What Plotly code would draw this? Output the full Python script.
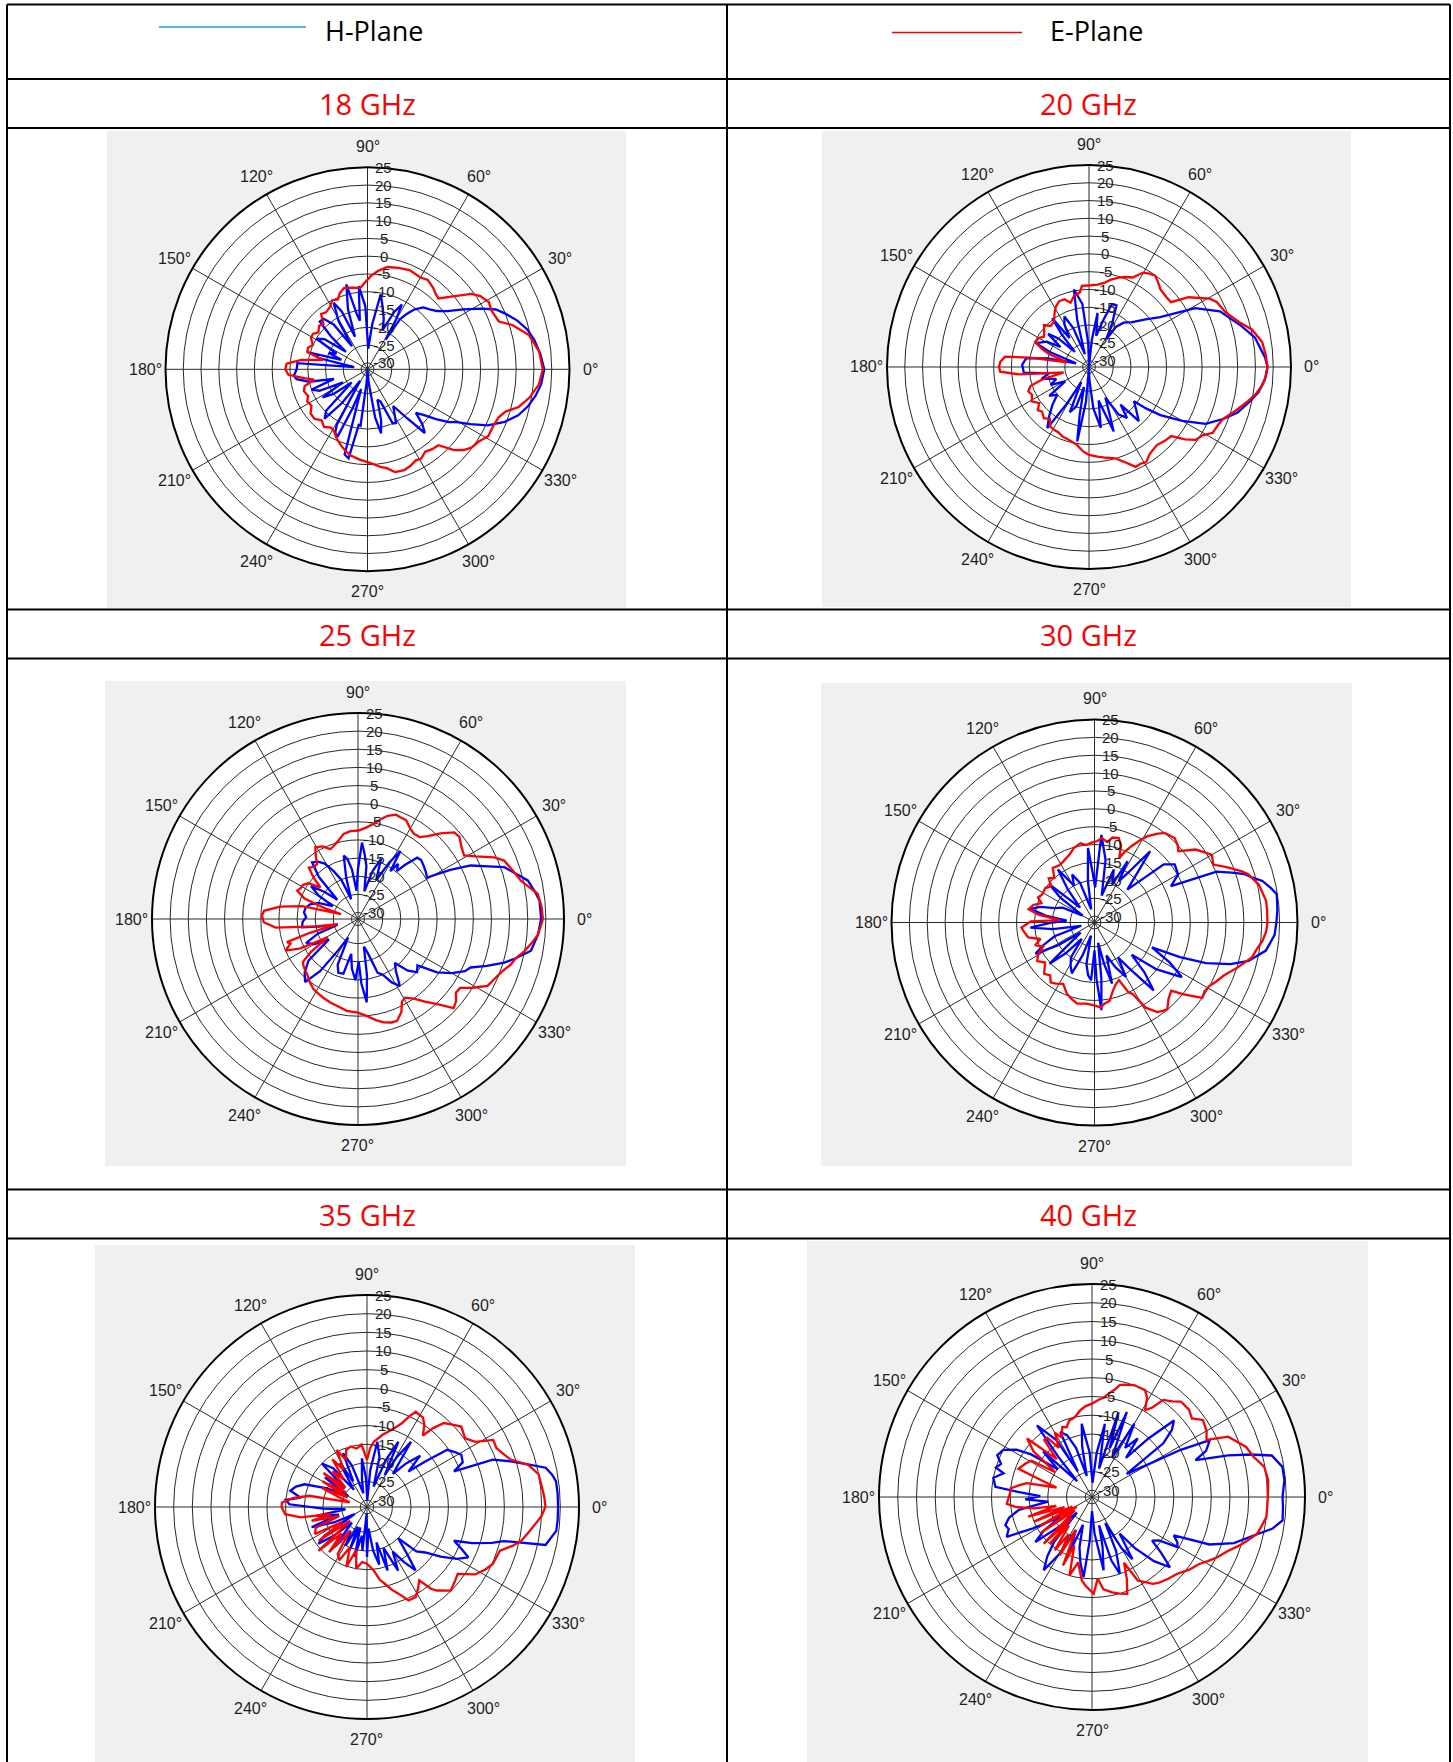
import math
import plotly.graph_objects as go

W, H = 1453, 1762

FREQ_LABELS = ["18 GHz", "20 GHz", "25 GHz", "30 GHz", "35 GHz", "40 GHz"]
THETA_TICKS = list(range(0, 360, 30))
THETA_TEXT = [f"{t}°" for t in THETA_TICKS]
R_TICKS = [-30, -25, -20, -15, -10, -5, 0, 5, 10, 15, 20, 25]
R_MIN, R_MAX = -31.8, 25
LEGEND_NAMES = ["H-Plane", "E-Plane"]

# ---- measured patterns: [angle (deg), gain (dB)] ----
H18 = [[0,17.9],[5,17],[10,15.8],[14,14.5],[18,12.5],[22,10],[25,8],[28,4.5],[32,0],[36,-4],[40,-6.3],[44,-7.5],[48,-8.4],[52,-10.5],[55,-13],[57,-15],[58.5,-22],[60,-16],[62,-11.2],[65,-14],[69,-20],[72,-17],[76,-14],[80,-10.4],[84,-19],[88,-26],[92,-14],[96,-8.3],[99,-18],[101,-16],[104,-7.2],[108,-14],[111,-22],[114,-14],[117,-10.8],[121,-16],[124,-24],[127,-16],[131,-13],[135,-12.8],[138,-18],[141,-24],[145,-17],[149,-15],[153,-22],[157,-20],[160,-24],[164,-14.5],[167,-18],[171,-28],[175,-12],[180,-11.9],[185,-11],[188,-11.7],[192,-15],[196,-22],[200,-15],[204,-17],[208,-24],[212,-16.9],[216,-20],[220,-26],[225,-15.4],[229,-13.4],[233,-20],[237,-28],[241,-14],[243,-11.8],[246,-11],[249,-20],[252,-26],[255,-7],[258,-6.2],[261,-16],[263,-15.8],[266,-28],[270,-31.5],[275,-28],[279,-18],[282,-13.4],[285,-17],[288,-22.8],[292,-22],[295,-15],[298,-14.7],[301,-17],[305,-19.2],[309,-14],[312,-7.7],[315,-10],[318,-13.5],[321,-11.3],[324,-8],[327,-4.5],[329,-3.1],[332,1],[335,5.5],[339,9.5],[343,12.5],[347,14.5],[351,16],[355,17.2],[360,17.9]]
E18 = [[0,17.5],[6,16.7],[12,14.6],[17,10.8],[20,7.5],[25,6.8],[29,7.2],[33,6],[36,4.3],[40,0.2],[45,-3.6],[48,-3.2],[51,-2.4],[56,-1.5],[60,-2],[67,-1.5],[73,-2],[79,-2.5],[84,-4],[88,-5.6],[92,-7.5],[95,-8.8],[100,-8.5],[106,-8],[110,-9],[113,-10.5],[117,-10],[121,-11.3],[126,-12],[130,-11.5],[134,-14],[138,-13.5],[143,-14.5],[147,-13.5],[151,-13.6],[156,-15],[160,-14],[164,-14.2],[168,-19],[172,-13],[176,-9],[180,-8.7],[184,-9.5],[188,-13.8],[191,-16.5],[195,-13.5],[199,-12.9],[204,-13.5],[208,-12.6],[213,-13],[218,-11.5],[223,-11.4],[228,-12.5],[233,-11.5],[238,-12.5],[242,-11.9],[246,-10.5],[251,-9.1],[255,-8],[259,-7.1],[265,-6.3],[270,-5.7],[274,-5],[278,-4],[281,-3.5],[285,-1.9],[290,-1.6],[294,-2.1],[298,-2.8],[301,-2.5],[305,-3.5],[309,-2.9],[313,-2.6],[317,1.5],[320,3.5],[323,4.8],[327,5.5],[331,7],[336,7],[340,7.5],[343,8.8],[346,12],[350,14.4],[355,16.6],[360,17.5]]

H20 = [[0,18.4],[3,17.8],[10,15.6],[15,12.6],[23,8.2],[29,2.3],[35,-7.4],[40,-11],[46,-14.3],[52,-16],[56,-18.1],[58,-22.6],[62,-18],[66,-12.8],[70,-13],[73,-18],[77,-22.8],[81,-16.4],[84,-24],[88,-31.5],[92,-25],[96,-14],[101,-9.6],[104,-18],[108,-28],[112,-20],[116,-16],[120,-18],[124,-22],[127,-14.6],[130,-20],[133,-26],[137,-20],[141,-17],[145,-22],[149,-18],[155.8,-15.4],[159,-20],[164,-28],[168,-20],[172,-14],[178,-13],[185,-13.4],[189,-20.4],[194,-18],[200,-22],[205,-19.9],[211,-24],[216,-18],[221,-20],[226,-17],[231,-14],[235.7,-11],[239,-20],[243,-27],[247,-18],[252,-20],[256,-26],[259,-18],[261,-10.6],[265,-22],[268,-31.5],[272,-28],[276,-20],[281,-14.4],[286,-22],[291,-12.4],[294,-18],[298,-22],[302,-16],[306.7,-13.9],[310,-18],[312.6,-11.1],[318,-14],[322.7,-15.9],[324,-12],[326,-7.6],[330,-1.5],[334,4.7],[339,8.8],[343,11.9],[348,14.5],[351.6,16.4],[356,17.8],[360,18.4]]
E20 = [[0,18.4],[4,18],[8.2,17.4],[13,15.2],[16.6,12.3],[22,9.5],[27,8.5],[29.5,7.2],[35,2.4],[38.3,-2.4],[42,-2.5],[47.5,-2.1],[51,-1],[54,-0.1],[57,-0.5],[60.2,-1.2],[64,-3.8],[68,-4.5],[71.7,-5.3],[76,-6.5],[79.5,-7.7],[84,-8.5],[88.7,-8.8],[95,-8.9],[97,-10.7],[102,-11.4],[106,-13],[110,-11.5],[114.5,-11.5],[119,-12.5],[122,-13.6],[127.5,-15.6],[133,-16],[137,-14.5],[142,-15.8],[146,-16.5],[150,-15.5],[155,-15.1],[159,-17.7],[162,-20],[168,-25.5],[171,-15],[173,-8],[176.8,-6.8],[180,-6.5],[183,-6.8],[186,-12],[192,-24.5],[195,-18],[198,-14.5],[202,-13.4],[206,-14],[211,-13],[216,-14.5],[220,-13],[223.5,-13.6],[228.6,-12.6],[233,-13.5],[237,-11.8],[241,-11.6],[245,-11.5],[249,-10.9],[255,-10.5],[261,-9.7],[266,-8],[270,-7.1],[275.5,-6.5],[281,-5.8],[286,-5.1],[290,-3.5],[295,-0.8],[298,-1],[301,-0.6],[305,-2],[311,-2.7],[316,-2],[320,-1.6],[323,2],[325.6,4.5],[329,5.5],[332,7.6],[336,8],[339,8.7],[343,11],[348,14],[351,15.8],[354,17.2],[357,18],[360,18.4]]

H25 = [[0,18.7],[5.8,18.5],[9,17.5],[12.8,16.2],[16,13.5],[19.5,11],[22,7],[25.4,2.6],[28,-3],[31,-9.6],[35,-9],[39,-8.5],[43,-8],[46,-8.3],[49,-12],[51,-14.8],[54,-13],[56,-15.9],[58,-9.7],[61,-14],[65,-20],[69,-14],[73,-18],[77,-24],[81,-17],[84,-14],[87,-10.7],[90,-18],[93,-24],[97,-18],[100,-15],[102.7,-13.9],[106,-20],[109,-26],[113,-20],[117,-17],[121,-14],[125,-12.5],[129,-11.7],[133,-16],[137,-24],[141,-20],[145,-16],[149,-19],[153,-24],[158,-20],[163,-18],[168,-17],[173,-16.8],[178,-17.5],[183,-16.5],[188.5,-16.2],[192,-22],[196,-26],[200,-20],[205,-16],[210,-18],[215,-22],[220,-14],[225,-11],[230,-9.1],[234,-14],[238,-22],[242,-26],[246,-18],[250,-16],[255,-16.2],[259,-22],[263,-18],[267.5,-14.9],[271,-20],[273,-14],[276,-8.7],[279,-16],[282,-24],[286,-22],[290,-16],[294,-15],[298,-12],[302,-10],[306,-14],[310,-16],[314,-12],[318,-9.9],[322,-11],[326,-5.5],[330,-2],[334,1],[336.7,2],[340,6],[343.4,10.3],[346,13],[349.6,16.7],[355,18],[360,18.7]]
E25 = [[0,19.2],[4,18.9],[8,18.2],[13.3,14.3],[17.4,12.9],[21.8,11.6],[24.4,9.4],[28,5],[31,2.3],[35,3],[39,4.2],[42,3.9],[46,1],[50,-2],[53,-3.5],[56.8,-3.7],[60,-3],[64,-1.5],[67.4,-1.4],[70,-1.2],[74,-2.2],[77,-3.5],[80.6,-5.2],[85,-6.5],[89.6,-7.4],[95,-7.5],[99.6,-8],[104,-9.5],[108,-10.5],[111.6,-11.1],[116,-9.5],[120.8,-8.8],[124,-11],[126.7,-12.9],[130,-13],[133.7,-12.2],[137,-15],[140,-18.3],[144,-15],[148,-14],[152,-13.8],[155,-13.3],[159,-16],[162,-22],[164,-26.9],[167,-16],[171,-10],[175,-5.8],[178,-5.3],[182,-5.8],[186,-9],[190,-20],[194,-26],[196,-18],[198,-11.2],[200,-12],[203.5,-10],[207,-14],[211,-22],[215,-16],[218,-12.5],[220.7,-12],[224,-11.5],[228,-11],[232,-10],[237.6,-8.9],[242,-8.5],[247,-8],[252,-7.5],[258,-7],[263,-6.3],[270,-6],[275,-5],[280,-3.5],[284,-2.4],[288,-1.8],[291,-1.7],[295,-3.5],[298,-6],[301,-6.5],[305,-5],[309,-2.5],[313,0.3],[317,4.2],[320,3.5],[323,2],[326,2.2],[329,5],[332.7,8.4],[337,9.5],[340,10.5],[343.5,12.2],[346,13],[349,14.9],[352,16.5],[355,18],[360,19.2]]

H30 = [[0,19.1],[4,19.5],[8.8,19.8],[11,18.5],[13.9,16.6],[16,14],[17.8,12.4],[20,9],[22.6,5.2],[25.4,-8.1],[29.9,-4.8],[35.9,-4.1],[40,-6.5],[45,-18.8],[52,-6.5],[56,-15],[59.5,-18.4],[61.6,-12.3],[65,-20],[70,-16],[75,-24],[80,-14],[85.5,-7.2],[89,-22],[92,-18],[95,-10.9],[99,-20],[104,-28],[110,-20],[115,-17],[119,-20],[124.6,-13.8],[129,-20],[134,-26],[139.8,-15.3],[144,-20],[150,-28],[155,-22],[160,-20],[164,-16],[168,-13.4],[172,-18],[176,-24],[180,-20],[184.5,-13.8],[189,-20],[194,-28],[199,-20],[204,-16],[208,-13.1],[212,-20],[216,-27],[222.5,-14.7],[227,-20],[232,-26],[236,-20],[241,-18],[246,-16.2],[250,-22],[255,-28],[259,-20],[263,-17],[266.6,-15.6],[270,-24],[272,-16],[274.5,-7.2],[277,-16],[280,-26],[283,-20],[286,-14],[290,-22],[295,-18],[300,-14.2],[304,-20],[307,-16],[311,-6.6],[315,-12],[319,-18],[323,-10],[328,-3],[332,-8],[336.6,-14.3],[338,-6],[340,1.4],[343,8],[346,12.6],[350.7,16.8],[356,18.7],[360,19.1]]
E30 = [[0,16.6],[4,16.6],[7.2,16.6],[13,15.4],[17.4,13.3],[19.3,11.7],[23,8],[26,5.2],[30,6.1],[33,4.5],[35.8,3.1],[40.4,-1],[43,0],[46.5,0.8],[52,0],[55,-1.5],[58.7,-3.6],[61,-5.5],[64.3,-8.2],[67,-10.5],[69,-12.5],[71,-9],[74,-7.2],[78,-7.5],[81,-9],[85,-8.1],[88,-9],[92.5,-9.5],[96,-10],[100,-9.3],[105.6,-10.2],[110,-11.5],[117,-12.6],[122,-13],[127.5,-12.6],[132,-15],[136,-14],[140,-16],[145,-15],[151.8,-15.2],[156,-14.5],[160,-16],[164,-14],[168.6,-13],[172,-16],[176,-22],[179,-14],[184,-11.3],[188,-12],[192.7,-12.8],[197,-16],[201,-14],[205,-16],[210,-13.5],[214,-12.5],[219,-14],[225.5,-11.7],[230,-12.5],[234,-11],[238,-11.6],[243,-12.5],[248.6,-10.5],[253,-9.5],[258,-8.6],[264,-9],[270,-8.6],[274,-8],[277,-8.9],[281,-9.5],[285,-12],[289,-13.5],[293,-14.3],[296,-10],[298,-9.2],[301,-4],[305,-1.2],[308,-0.5],[310,-0.1],[314,-2],[318.4,-3.1],[321,0],[325,5],[328,4.5],[331,4.9],[334,6],[337.7,7.3],[342.6,10.2],[347.5,13.3],[350,14],[353.8,15.5],[357,16.3],[360,16.6]]

H35 = [[0,19.4],[4,19.4],[7.8,19.3],[10,18.5],[12.4,17.2],[15,12.5],[17.7,8.5],[20.6,4.2],[22.3,-6.6],[25,-3.5],[29,-2.9],[32,-4],[35.5,-5.4],[38,-12],[40.5,-17.2],[44,-12],[48,-16],[52,-20.5],[56,-10.7],[59,-16],[61,-22],[64.3,-12.4],[68,-18],[72,-26],[76,-18],[81,-14.1],[85,-22],[88,-30],[92,-24],[96,-18.7],[100,-24],[105,-28],[110,-20],[114,-16],[118,-24],[122,-18],[127,-26],[131,-18],[136,-15],[140,-24],[145,-18],[150,-26],[155,-20],[160,-14],[164,-12],[168,-10.8],[172,-13.9],[175,-10],[178,-11],[182,-20],[186,-26],[190,-18],[195,-24],[200,-16],[205,-22],[210,-28],[214,-18],[217,-15.5],[221,-20],[226,-26],[231,-18],[236,-24],[241,-20],[245,-26],[248,-19.3],[252,-26],[256,-18],[260,-24],[264,-20],[267,-30],[270,-18.4],[274,-26],[278,-20],[282,-16],[285,-22],[288,-13.9],[292,-20],[296,-12.8],[300,-18],[304,-14],[307.5,-10.4],[311,-16],[315,-20],[318,-14],[322,-12],[326,-8],[330,-4],[333.6,-1.5],[336,-4],[338.8,-6.8],[341,-2],[344,3],[346,5.9],[348,17.1],[352.8,19.3],[356,19.4],[360,19.4]]
E35 = [[0,16],[3,15.8],[6.3,15.4],[10.8,15],[14.7,12.8],[18.3,8.7],[21,7.5],[24.5,6.3],[28,6.5],[31,2.1],[35,0.3],[40.5,1.4],[44,0],[47.5,-1.3],[50,-4.2],[52,-7.5],[55,-5],[58,-3.5],[60.4,-3.4],[62.9,-3.1],[65,-5],[67.4,-7.5],[72,-10],[77.8,-12],[84,-14.2],[87,-16],[90,-19.2],[95,-15],[100,-15.9],[105,-15],[110,-15.5],[114,-18],[118,-14.5],[122,-20],[126,-16],[130,-22],[134,-18.5],[138,-24],[142,-17],[146,-25],[150,-18],[154,-26],[157,-18.7],[161,-24],[165,-27],[169,-16],[173,-12],[177,-9],[180,-8.9],[185,-9.8],[189,-13.9],[191,-22],[194,-16.5],[198,-24],[202,-17],[207.5,-16.1],[211,-24],[215,-16],[219,-26],[222,-14.3],[226,-22],[230,-16],[234,-24],[238,-17],[242.5,-15.7],[247,-20],[251,-14.8],[256,-20],[260,-15],[265,-17],[270,-16.6],[276,-14.7],[280,-12],[283,-10.7],[287,-8.5],[290,-7.1],[294,-4.4],[298.5,-4.4],[302,-6],[305.5,-7.7],[308,-4],[310,-2.6],[315,-0.1],[320,-1],[323.6,-1.6],[328,2.3],[332,4],[335.6,5.2],[341.8,5.7],[345,8.5],[347.6,10.5],[351,12],[354,13.4],[357,15],[360,16]]

H40 = [[0,19],[5,19.7],[9,19.6],[13,17.4],[15,12],[17,6.2],[19.6,-2.5],[22,1],[25.8,3.1],[28,-5],[30,-14],[33.7,-20.7],[37,-8],[40,-4],[43,-1.9],[46,-10],[49,-18],[52,-12],[56,-16],[60,-9.2],[63,-20],[67.7,-7.3],[70,-18],[72.6,-8.1],[76,-24],[80,-12],[84,-20],[88,-28],[93,-20],[98,-12.1],[101,-18],[104,-26],[108,-18],[112,-14],[116,-12.5],[119,-24],[122,-14],[127.5,-7.7],[130,-18],[133,-26],[137,-14],[141,-20],[145,-12],[148,-8],[152,-5],[156.3,-4.2],[160,-6],[163,-5],[165,-7.4],[169,-5],[174,-5.9],[176,-12],[179,-18],[182,-14],[186,-20],[190,-12],[194,-9],[198,-7.5],[201,-8],[205,-6.7],[208,-14],[212,-22],[215,-16],[218.5,-12.5],[222,-20],[226,-26],[230,-16],[233,-12],[236.6,-8.4],[240,-14],[244,-22],[248,-16],[252,-24],[256,-18],[260,-14],[264,-10.3],[267,-20],[270,-28],[274,-22],[279,-12],[282,-18.3],[284,-24],[287,-14],[290,-10],[294,-16],[297,-24],[300,-16],[303,-12],[307,-19.6],[310,-14],[314,-8],[318,-3.8],[321,-8],[324,-12],[327,-10.5],[329.6,-5.4],[332,-6],[334.8,-7.7],[338,2],[342,8],[346.6,12.5],[350,17],[353,19.4],[357,19.2],[360,19]]
E40 = [[0,15.1],[5.5,15.4],[10,14.8],[14,12.6],[18,11.4],[21,9.5],[23.9,7.9],[26.5,2.3],[30,3.5],[34.8,4.2],[38.2,2.1],[42,3],[47,3],[50,1.5],[53.8,0.3],[56,-3],[58.6,-4.7],[61,-1.5],[63.6,0],[66,0],[69.4,0.1],[73,-0.5],[76,-1],[78,-2.5],[80.7,-3.8],[83,-5],[86.4,-5.9],[90,-6.9],[94,-7.5],[97.8,-8.5],[102,-10],[106.5,-10.5],[110,-12],[113,-11.5],[117,-14],[120,-12],[124,-16],[127,-12],[130,-12],[133,-18],[138,-8.5],[142,-12],[146,-20],[149,-13],[153,-12],[159,-10.8],[162,-18],[165,-22],[168,-14],[171,-12],[174,-10],[177.6,-9.9],[184.5,-9],[187.4,-11.2],[191,-16],[194,-22],[197,-14],[200,-24],[203,-15],[206,-26],[209,-16],[212,-27],[215,-15],[218,-26],[224,-13.9],[226,-24],[228,-15],[231,-22],[235,-14.5],[238,-20],[241,-14],[244,-22],[247,-12],[250,-18],[254,-10],[258,-14],[263,-9.4],[266,-8],[271,-6],[274,-10],[277,-7],[282,-5.8],[286,-5],[290,-4.3],[293,-8],[296,-12.3],[298.7,-6.4],[302,-5],[305,-3.5],[308,-2.8],[313,-2],[318,-1.2],[323,0.5],[328,1.9],[331,3.5],[334.3,5.3],[338,7],[341.7,9.5],[344,11],[347.4,13.3],[350,14],[353.4,15],[357,15],[360,15.1]]

H_SERIES = [H18, H20, H25, H30, H35, H40]
E_SERIES = [E18, E20, E25, E30, E35, E40]

# ---- layout geometry (pixels) ----
POLAR_GEOM = [(367.5, 369.3, 202), (1089, 367, 202), (358, 919, 206),
              (1094.5, 922.5, 203), (367, 1507, 212), (1092, 1497, 213)]
PANELS = [(107, 131, 626, 608), (822, 131, 1351, 607), (105, 681, 626, 1166),
          (821, 683, 1352, 1166), (95, 1245, 635, 1762), (807, 1241, 1368, 1762)]
TABLE_X = [7, 727, 1450]
TABLE_Y = [4.5, 79, 128, 609.5, 658.5, 1189.5, 1238.5]
TITLE_POS = [(367, 103.5), (1088, 103.5), (367, 634), (1088, 634), (367, 1214), (1088, 1214)]

GRID = "#2a2a2a"
TXT = "#1e1e1e"
FONT = "Liberation Sans, Arial, sans-serif"

def px(x):
    return x / W

def py(y):
    return 1 - y / H

fig = go.Figure()
layout = {}
annotations = []
for i in range(6):
    sp = "polar" if i == 0 else f"polar{i+1}"
    for series, color in ((H_SERIES[i], "#0000ff"), (E_SERIES[i], "#ff0000")):
        fig.add_trace(go.Scatterpolar(
            theta=[p[0] for p in series], r=[p[1] for p in series],
            mode="lines", line=dict(color=color, width=2.3),
            subplot=sp, showlegend=False, hoverinfo="skip"))
    cx, cy, R = POLAR_GEOM[i]
    layout[sp] = dict(
        domain=dict(x=[px(cx - R), px(cx + R)], y=[py(cy + R), py(cy - R)]),
        bgcolor="white",
        radialaxis=dict(range=[R_MIN, R_MAX], tickvals=R_TICKS, angle=90,
                        showticklabels=False, showline=False, ticks="",
                        gridcolor=GRID, gridwidth=1.35),
        angularaxis=dict(tickvals=THETA_TICKS, direction="counterclockwise",
                         rotation=0, showline=True, linecolor="#000000", linewidth=2,
                         gridcolor=GRID, gridwidth=1.35, ticks="", showticklabels=False),
    )
    # angular tick labels, MATLAB style: centred on a circle just outside the plot
    ra = R + 20.5
    for t, lab in zip(THETA_TICKS, THETA_TEXT):
        ang = math.radians(t)
        annotations.append(dict(text=lab, x=px(cx + ra * math.cos(ang)), y=py(cy - ra * math.sin(ang)),
                                xref="paper", yref="paper", showarrow=False,
                                xanchor="center", yanchor="middle",
                                font=dict(family=FONT, size=16, color=TXT)))
    # radial tick labels: column just right of the 90 deg spoke
    for v in R_TICKS:
        yy = cy - R * (v - R_MIN) / (R_MAX - R_MIN)
        annotations.append(dict(text=str(v), x=px(cx + 16 * R / 202), y=py(yy),
                                xref="paper", yref="paper", showarrow=False,
                                xanchor="center", yanchor="middle",
                                font=dict(family=FONT, size=15, color=TXT)))

shapes = []
for (x0, y0, x1, y1) in PANELS:
    shapes.append(dict(type="rect", xref="paper", yref="paper", x0=px(x0), x1=px(x1),
                       y0=py(y1), y1=py(y0), fillcolor="#f0f0f0", line=dict(width=0), layer="below"))
for y in TABLE_Y:
    shapes.append(dict(type="line", xref="paper", yref="paper", x0=px(TABLE_X[0]), x1=px(TABLE_X[-1]),
                       y0=py(y), y1=py(y), line=dict(color="black", width=2)))
for x in TABLE_X:
    shapes.append(dict(type="line", xref="paper", yref="paper", x0=px(x), x1=px(x),
                       y0=py(TABLE_Y[0]), y1=0, line=dict(color="black", width=2)))
# legend samples
shapes.append(dict(type="line", xref="paper", yref="paper", x0=px(159), x1=px(306), y0=py(27), y1=py(27),
                   line=dict(color="#1f9ad8", width=1.5)))
shapes.append(dict(type="line", xref="paper", yref="paper", x0=px(892), x1=px(1022), y0=py(32.5), y1=py(32.5),
                   line=dict(color="#ff0000", width=1.5)))

annotations += [
    dict(text=LEGEND_NAMES[0], x=px(374), y=py(31), xref="paper", yref="paper", showarrow=False,
         font=dict(family="Open Sans", size=27, color="black"), xanchor="center", yanchor="middle"),
    dict(text=LEGEND_NAMES[1], x=px(1096), y=py(31), xref="paper", yref="paper", showarrow=False,
         font=dict(family="Open Sans", size=27, color="black"), xanchor="center", yanchor="middle"),
]
for (tx, ty), lab in zip(TITLE_POS, FREQ_LABELS):
    annotations.append(dict(text=lab, x=px(tx), y=py(ty), xref="paper", yref="paper", showarrow=False,
                            font=dict(family="Open Sans", size=29, color="#ff0000"),
                            xanchor="center", yanchor="middle"))

fig.update_layout(width=W, height=H, margin=dict(l=0, r=0, t=0, b=0),
                  paper_bgcolor="white", plot_bgcolor="white",
                  shapes=shapes, annotations=annotations, **layout)
fig.write_html("out.html", config={"displayModeBar": False},
               post_script="document.body.style.margin='0';document.body.style.overflow='hidden';")
